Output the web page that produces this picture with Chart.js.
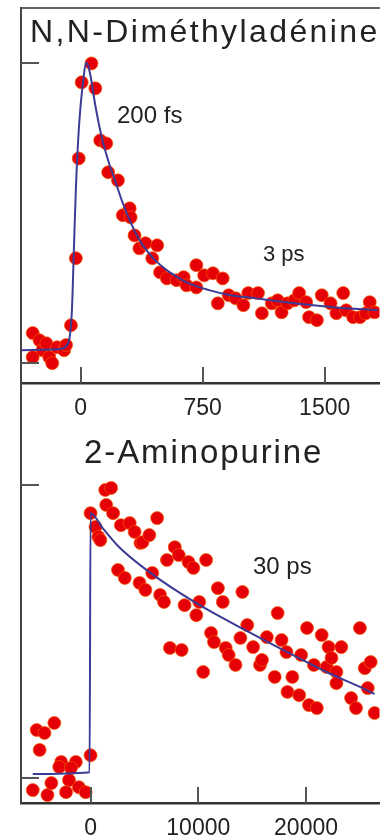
<!DOCTYPE html>
<html>
<head>
<meta charset="utf-8">
<script src="https://cdn.jsdelivr.net/npm/chart.js@4/dist/chart.umd.min.js"></script>
<style>
  html, body { margin: 0; padding: 0; background: #fff; overflow: hidden; }
  body { width: 387px; height: 838px; position: relative; font-family: "Liberation Sans", Arial, sans-serif; color: #222; }
  canvas { position: absolute; left: 0; }
  #topChart { top: 0; }
  #bottomChart { top: 375px; }
  .lbl { position: absolute; white-space: nowrap; line-height: 1; }
</style>
</head>
<body>
<canvas id="topChart" width="387" height="440"></canvas>
<canvas id="bottomChart" width="387" height="463"></canvas>

<div class="lbl" style="left:30px; top:15px; font-size:32px; letter-spacing:2.4px;">N,N-Diméthyladénine</div>
<div class="lbl" style="left:117px; top:103px; font-size:24px;">200 fs</div>
<div class="lbl" style="left:263px; top:243px; font-size:22px;">3 ps</div>
<div class="lbl" style="left:84px; top:435px; font-size:33px; letter-spacing:1.9px;">2-Aminopurine</div>
<div class="lbl" style="left:253px; top:554px; font-size:24px;">30 ps</div>

<script>
// N,N-dimethyladenine: delay (fs) and signal (peak = 1)
const dmaTime = [-295, -295, -253, -235, -211, -193, -175, -145, -102, -90, -60, -30, -12, 6, 66, 90,
  120, 157, 169, 229, 259, 301, 307, 331, 361, 398, 440, 470, 488, 530, 590, 633, 651, 711, 711,
  759, 813, 843, 873, 910, 952, 1000, 1030, 1090, 1114, 1175, 1211, 1235, 1271, 1313, 1343, 1386,
  1404, 1452, 1482, 1536, 1572, 1614, 1632, 1675, 1717, 1753, 1777, 1807];
const dmaSignal = [0.02, 0.10, 0.076, 0.043, 0.066, 0.02, 0.0, 0.053, 0.043, 0.06, 0.126, 0.349, 0.681, 0.934, 0.997, 0.914,
  0.741, 0.731, 0.635, 0.608, 0.492, 0.515, 0.485, 0.425, 0.382, 0.399, 0.349, 0.392, 0.302, 0.282, 0.276, 0.286, 0.259, 0.326, 0.252,
  0.292, 0.299, 0.199, 0.282, 0.226, 0.216, 0.193, 0.233, 0.233, 0.166, 0.199, 0.209, 0.169, 0.199, 0.209, 0.233, 0.203,
  0.153, 0.143, 0.226, 0.199, 0.166, 0.233, 0.176, 0.153, 0.153, 0.166, 0.203, 0.169];
const dmaFitTime = [-367, -133, -84, -66, -54, -42, -30, -12, 12, 36, 60, 90, 127, 169, 211, 259, 307,
  355, 410, 470, 548, 651, 789, 922, 1072, 1313, 1554, 1825];
const dmaFitSignal = [0.043, 0.047, 0.060, 0.093, 0.176, 0.375, 0.575, 0.774, 0.924, 1.0, 0.957, 0.857, 0.757, 0.674, 0.608, 0.532, 0.468,
  0.415, 0.372, 0.336, 0.302, 0.269, 0.243, 0.226, 0.216, 0.199, 0.186, 0.176];
const dmaTicks = [0, 750, 1500];

// 2-aminopurine: delay (fs) and signal
const apTime = [-5000, -4273, -3363, -4727, -2727, -2909, -1364, -1818, 0, -5363, -4000, -3636, -2273, -2000, -1091, -455,
  0, 455, 727, 909, 1364, 1909, 1455, 2091, 2545, 2818, 3182, 3636, 4091, 4545, 4636, 4818, 5091, 5455, 5727,
  6182, 6455, 6818, 7091, 7364, 7818, 8182, 8455, 8727, 9091, 9545, 9818, 10091, 10455, 10727, 11182, 11455,
  11818, 12273, 12545, 12818, 13455, 13909, 14091, 14545, 15091, 15727, 15909, 16364, 17091, 17364, 17727,
  18182, 18273, 18727, 19364, 19545, 20091, 20273, 20727, 21000, 21455, 21909, 22091, 22364, 22818, 22818,
  23273, 24182, 24636, 25000, 25455, 25727, 26000, 26364];
const apSignal = [0.164, 0.154, 0.188, 0.096, 0.055, 0.038, 0.055, 0.034, 0.078, -0.041, -0.058, -0.017, -0.048, -0.007, -0.031, -0.048,
  0.904, 0.857, 0.823, 0.812, 0.983, 0.990, 0.932, 0.904, 0.710, 0.863, 0.683, 0.870, 0.840, 0.666, 0.802, 0.805, 0.642, 0.829, 0.700,
  0.887, 0.625, 0.601, 0.744, 0.444, 0.788, 0.761, 0.437, 0.590, 0.737, 0.717, 0.556, 0.601, 0.362, 0.744, 0.495, 0.464,
  0.648, 0.601, 0.444, 0.420, 0.386, 0.478, 0.635, 0.522, 0.447, 0.386, 0.403, 0.481, 0.345, 0.563, 0.471,
  0.430, 0.294, 0.345, 0.283, 0.420, 0.512, 0.249, 0.386, 0.239, 0.488, 0.379, 0.447, 0.410, 0.362, 0.324,
  0.447, 0.273, 0.239, 0.512, 0.375, 0.307, 0.396, 0.222];
const apFitTime = [-5364, -91, 0, 1182, 2545, 5273, 9818, 14364, 17364, 21909, 25000, 26364];
const apFitSignal = [0.014, 0.020, 0.904, 0.850, 0.792, 0.708, 0.597, 0.505, 0.447, 0.362, 0.311, 0.287];
const apTicks = [0, 10000, 20000];

const yTickValues = [0, 1];

const pts = (xs, ys) => xs.map((x, i) => ({ x: x, y: ys[i] }));

const innerTicks = {
  id: 'innerTicks',
  afterDraw(chart, args, opts) {
    const { ctx, chartArea } = chart;
    const x = chart.scales.x, y = chart.scales.y;
    ctx.save();
    ctx.lineWidth = 2;
    ctx.strokeStyle = opts.color;
    x.ticks.forEach(t => {
      const px = Math.round(x.getPixelForValue(t.value));
      ctx.beginPath();
      ctx.moveTo(px, chartArea.bottom);
      ctx.lineTo(px, chartArea.bottom - opts.xLen);
      ctx.stroke();
    });
    y.ticks.forEach(t => {
      const py = Math.round(y.getPixelForValue(t.value));
      ctx.beginPath();
      ctx.moveTo(chartArea.left, py);
      ctx.lineTo(chartArea.left + opts.yLen, py);
      ctx.stroke();
    });
    ctx.restore();
  }
};

function makeChart(id, cfg) {
  return new Chart(document.getElementById(id), {
    type: 'scatter',
    data: {
      datasets: [
        {
          data: cfg.fit,
          showLine: true,
          borderColor: '#3c3c96',
          borderWidth: 2,
          pointRadius: 0,
          cubicInterpolationMode: 'monotone',
          order: 0
        },
        {
          data: cfg.points,
          pointRadius: 6.5,
          pointBackgroundColor: '#e50008',
          pointBorderColor: 'rgba(245, 90, 0, 0.7)',
          pointBorderWidth: 1,
          order: 1
        }
      ]
    },
    options: {
      responsive: false,
      animation: false,
      devicePixelRatio: 1,
      layout: { padding: cfg.padding },
      plugins: {
        legend: { display: false },
        tooltip: { enabled: false },
        innerTicks: { color: '#555', xLen: 16, yLen: 18 }
      },
      scales: {
        x: {
          type: 'linear',
          position: 'bottom',
          min: cfg.xMin,
          max: cfg.xMax,
          afterBuildTicks: s => { s.ticks = cfg.ticks.map(v => ({ value: v })); },
          afterFit: s => { s.height = cfg.axisHeight; },
          grid: { display: false, drawTicks: false },
          border: { display: true, color: '#333', width: 2.5 },
          ticks: {
            color: '#222',
            padding: 12,
            font: { family: '"Liberation Sans", Arial, sans-serif', size: 23 },
            callback: v => String(v)
          }
        },
        xTop: {
          type: 'linear',
          position: 'top',
          display: cfg.topBorder,
          grid: { display: false, drawTicks: false },
          border: { display: true, color: '#666', width: 2 },
          ticks: { display: false }
        },
        y: {
          type: 'linear',
          min: cfg.yMin,
          max: cfg.yMax,
          afterBuildTicks: s => { s.ticks = yTickValues.map(v => ({ value: v })); },
          grid: { display: false, drawTicks: false },
          border: { display: true, color: '#444', width: 2 },
          ticks: { display: false }
        }
      }
    },
    plugins: [innerTicks]
  });
}

makeChart('topChart', {
  points: pts(dmaTime, dmaSignal),
  fit: pts(dmaFitTime, dmaFitSignal),
  ticks: dmaTicks,
  xMin: -367, xMax: 1837,
  yMin: -0.066, yMax: 1.183,
  padding: { left: 21, top: 7, right: 0, bottom: 0 },
  axisHeight: 57,
  topBorder: true
});

makeChart('bottomChart', {
  points: pts(apTime, apSignal),
  fit: pts(apFitTime, apFitSignal),
  ticks: apTicks,
  xMin: -6455, xMax: 26818,
  yMin: -0.085, yMax: 1.348,
  padding: { left: 21, top: 8, right: 0, bottom: 0 },
  axisHeight: 35,
  topBorder: false
});
</script>
</body>
</html>
